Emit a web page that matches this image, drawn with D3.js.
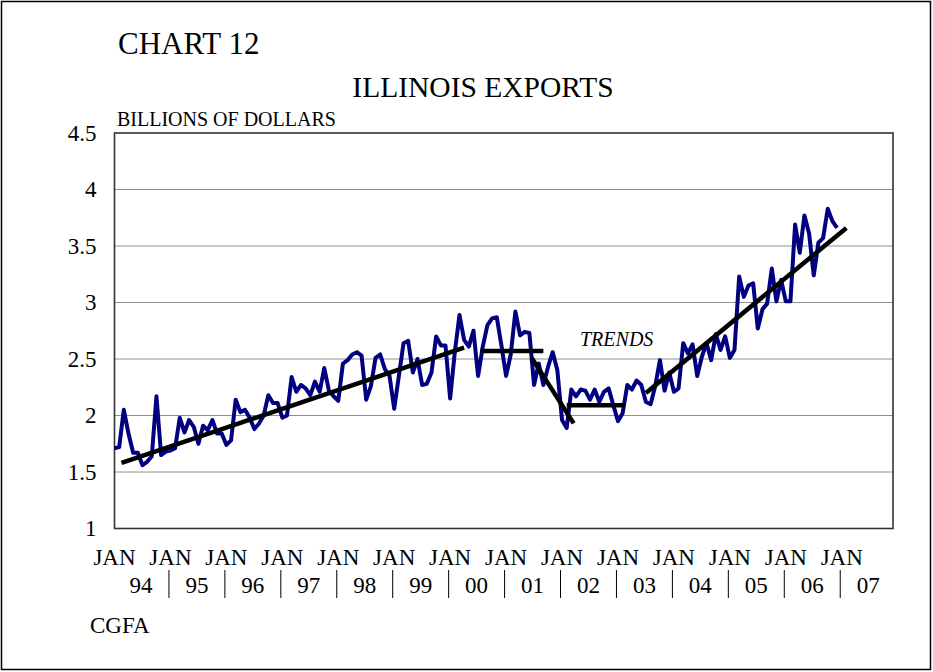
<!DOCTYPE html>
<html>
<head>
<meta charset="utf-8">
<title>Illinois Exports</title>
<script src="https://cdn.jsdelivr.net/npm/d3@7"></script>
<style>
  html, body { margin: 0; padding: 0; background: #fff; }
  svg { display: block; }
  text { font-family: "Liberation Serif", "Times New Roman", serif; fill: #000; }
</style>
</head>
<body>
<svg id="chart" width="933" height="672"></svg>
<script>
// Monthly Illinois exports, billions of dollars, January 1994 onward
const startYear = 1994;
const exports1994 = [1.71, 1.72, 2.05, 1.84, 1.67, 1.67, 1.56, 1.59, 1.64, 2.17, 1.65, 1.68];
const exports1995 = [1.69, 1.71, 1.98, 1.85, 1.96, 1.90, 1.75, 1.91, 1.87, 1.96, 1.84, 1.84];
const exports1996 = [1.74, 1.78, 2.14, 2.03, 2.05, 1.98, 1.88, 1.93, 2.00, 2.18, 2.11, 2.11];
const exports1997 = [1.98, 2.00, 2.34, 2.21, 2.27, 2.24, 2.18, 2.30, 2.21, 2.42, 2.22, 2.17];
const exports1998 = [2.13, 2.46, 2.49, 2.54, 2.56, 2.53, 2.14, 2.26, 2.51, 2.54, 2.41, 2.35];
const exports1999 = [2.06, 2.35, 2.64, 2.66, 2.38, 2.50, 2.27, 2.28, 2.38, 2.70, 2.62, 2.62];
const exports2000 = [2.15, 2.56, 2.89, 2.67, 2.61, 2.75, 2.35, 2.61, 2.80, 2.86, 2.87, 2.62];
const exports2001 = [2.35, 2.54, 2.92, 2.71, 2.74, 2.73, 2.27, 2.46, 2.27, 2.43, 2.56, 2.40];
const exports2002 = [1.96, 1.89, 2.23, 2.17, 2.23, 2.22, 2.14, 2.23, 2.12, 2.21, 2.24, 2.09];
const exports2003 = [1.95, 2.02, 2.27, 2.23, 2.31, 2.27, 2.12, 2.10, 2.26, 2.49, 2.22, 2.38];
const exports2004 = [2.21, 2.24, 2.64, 2.55, 2.63, 2.35, 2.52, 2.64, 2.49, 2.72, 2.58, 2.70];
const exports2005 = [2.51, 2.58, 3.23, 3.05, 3.15, 3.17, 2.77, 2.94, 2.99, 3.30, 3.01, 3.20];
const exports2006 = [3.01, 3.01, 3.69, 3.44, 3.77, 3.61, 3.24, 3.53, 3.57, 3.83, 3.72, 3.66];

const exportSeries = [].concat(
  exports1994, exports1995, exports1996, exports1997, exports1998, exports1999,
  exports2000, exports2001, exports2002, exports2003, exports2004, exports2005, exports2006
);

// Trend segments: [start month index, start value, end month index, end value]
const trendSegments = [
  [1.5, 1.58, 75, 2.60],
  [78.5, 2.57, 92, 2.57],
  [89.5, 2.51, 98.5, 1.93],
  [97, 2.09, 109.5, 2.09],
  [114, 2.20, 157, 3.66]
];

const yTicks = [1, 1.5, 2, 2.5, 3, 3.5, 4, 4.5];
const yearLabels = ["94", "95", "96", "97", "98", "99", "00", "01", "02", "03", "04", "05", "06", "07"];
const monthLabel = "JAN";

const svg = d3.select("#chart");

// outer frame
svg.append("rect")
  .attr("x", 1.5).attr("y", 1.5)
  .attr("width", 929).attr("height", 668)
  .attr("fill", "none").attr("stroke", "#000").attr("stroke-width", 1.5);

const plot = { left: 114.5, right: 893, top: 133, bottom: 528.5 };

const x = d3.scaleLinear().domain([0, 167]).range([plot.left, plot.right]);
const y = d3.scaleLinear().domain([1, 4.5]).range([plot.bottom, plot.top]);

// horizontal gridlines
svg.append("g")
  .selectAll("line")
  .data(yTicks.filter(v => v > 1 && v < 4.5))
  .join("line")
  .attr("x1", plot.left).attr("x2", plot.right)
  .attr("y1", d => y(d)).attr("y2", d => y(d))
  .attr("stroke", "#8f8f8f").attr("stroke-width", 1);

// plot frame
svg.append("rect")
  .attr("x", plot.left).attr("y", plot.top)
  .attr("width", plot.right - plot.left).attr("height", plot.bottom - plot.top)
  .attr("fill", "none").attr("stroke", "#333").attr("stroke-width", 1.6);

// y axis labels
const yAxis = d3.axisLeft(y).tickValues(yTicks).tickSize(0).tickPadding(18)
  .tickFormat(d => String(d));
svg.append("g")
  .attr("transform", `translate(${plot.left},0)`)
  .call(yAxis)
  .call(g => g.select(".domain").remove())
  .call(g => g.selectAll("text")
    .attr("font-family", "'Liberation Serif', 'Times New Roman', serif")
    .attr("font-size", 23).attr("fill", "#000"));

// x axis: JAN labels at each January, year labels between separators
const januaries = yearLabels.map((_, i) => i * 12);
svg.append("g")
  .selectAll("text")
  .data(januaries)
  .join("text")
  .attr("x", d => x(d))
  .attr("y", 565)
  .attr("text-anchor", "middle")
  .attr("font-size", 23)
  .text(monthLabel);

svg.append("g")
  .selectAll("text")
  .data(yearLabels)
  .join("text")
  .attr("x", (d, i) => x(i * 12 + 6) - 1.5)
  .attr("y", 593)
  .attr("text-anchor", "middle")
  .attr("font-size", 23)
  .text(d => d);

svg.append("g")
  .selectAll("line")
  .data(januaries.slice(1))
  .join("line")
  .attr("x1", d => x(d) - 1.5).attr("x2", d => x(d) - 1.5)
  .attr("y1", 570).attr("y2", 598)
  .attr("stroke", "#000").attr("stroke-width", 1);

// export series
const line = d3.line()
  .x((d, i) => x(i))
  .y(d => y(d));

svg.append("path")
  .datum(exportSeries)
  .attr("d", line)
  .attr("fill", "none")
  .attr("stroke", "#000080")
  .attr("stroke-width", 4)
  .attr("stroke-linejoin", "round");

// trend lines
svg.append("g")
  .selectAll("line")
  .data(trendSegments)
  .join("line")
  .attr("x1", d => x(d[0])).attr("y1", d => y(d[1]))
  .attr("x2", d => x(d[2])).attr("y2", d => y(d[3]))
  .attr("stroke", "#000").attr("stroke-width", 4.5);

// titles and notes
svg.append("text").attr("x", 118).attr("y", 54).attr("font-size", 31).text("CHART 12");
svg.append("text").attr("x", 483).attr("y", 96.5).attr("text-anchor", "middle")
  .attr("font-size", 29.5).text("ILLINOIS EXPORTS");
svg.append("text").attr("x", 117).attr("y", 126).attr("font-size", 20).text("BILLIONS OF DOLLARS");
svg.append("text").attr("x", 580).attr("y", 346).attr("font-size", 20)
  .attr("font-style", "italic").text("TRENDS");
svg.append("text").attr("x", 90).attr("y", 633).attr("font-size", 23).text("CGFA");
</script>
</body>
</html>
